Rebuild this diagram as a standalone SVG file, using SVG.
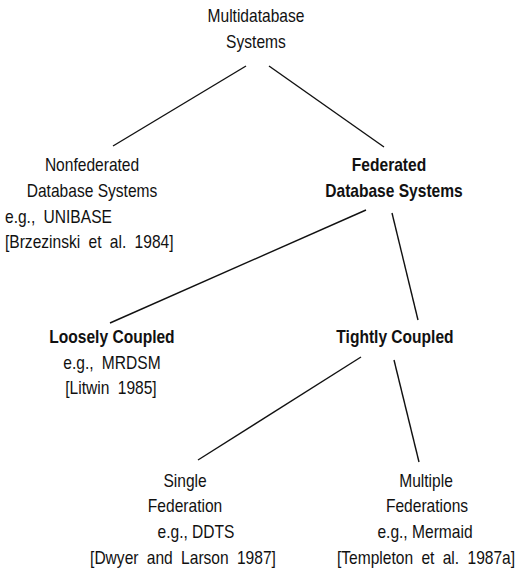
<svg xmlns="http://www.w3.org/2000/svg" width="516" height="573" viewBox="0 0 516 573">
<style>
text{font-family:"Liberation Sans",Arial,sans-serif;font-size:17.5px;fill:#111}
.c{text-anchor:middle}
.b{font-weight:bold}
.w{word-spacing:4.5px}
.e line{stroke:#111;stroke-width:1.4}
</style>
<rect width="516" height="573" fill="#fff"/>
<g id="edges" class="e">
<line x1="246" y1="66" x2="113" y2="146"/>
<line x1="269" y1="66" x2="384" y2="147"/>
<line x1="366" y1="210" x2="110" y2="323"/>
<line x1="392" y1="213" x2="418" y2="320"/>
<line x1="361" y1="357" x2="198" y2="460"/>
<line x1="394" y1="360" x2="419" y2="462"/>
</g>
<g transform="scale(0.89,1)">
<g id="multidatabase">
<text class="c" x="287.6" y="22">Multidatabase</text>
<text class="c" x="287.6" y="48">Systems</text>
</g>
<g id="nonfederated">
<text class="c" x="103.4" y="171">Nonfederated</text>
<text class="c" x="103.4" y="197">Database Systems</text>
<text class="w" x="5.6" y="223">e.g., UNIBASE</text>
<text class="w" x="5.6" y="248">[Brzezinski et al. 1984]</text>
</g>
<g id="federated">
<text class="c b" x="437.1" y="171">Federated</text>
<text class="c b" x="442.7" y="197">Database Systems</text>
</g>
<g id="loosely">
<text class="c b" x="125.8" y="343">Loosely Coupled</text>
<text class="c w" x="125.8" y="369">e.g., MRDSM</text>
<text class="c w" x="124.7" y="394">[Litwin 1985]</text>
</g>
<g id="tightly">
<text class="c b" x="443.8" y="343">Tightly Coupled</text>
</g>
<g id="single">
<text class="c" x="207.9" y="487">Single</text>
<text class="c" x="207.9" y="512">Federation</text>
<text class="c" x="220.2" y="538">e.g., DDTS</text>
<text class="c w" x="205.6" y="564">[Dwyer and Larson 1987]</text>
</g>
<g id="multiple">
<text class="c" x="478.7" y="487">Multiple</text>
<text class="c" x="479.8" y="512">Federations</text>
<text class="c" x="477.5" y="538">e.g., Mermaid</text>
<text class="c w" x="478.7" y="564">[Templeton et al. 1987a]</text>
</g>
</g>
</svg>
